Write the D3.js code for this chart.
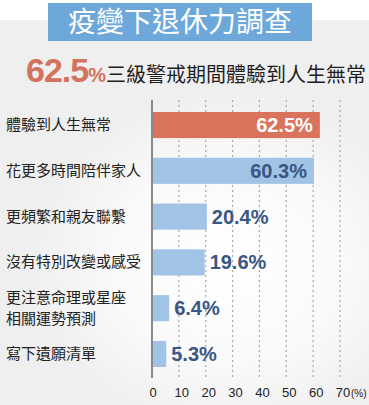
<!DOCTYPE html>
<html><head><meta charset="utf-8">
<script src="https://cdn.jsdelivr.net/npm/d3@7"></script>
<style>
html,body{margin:0;padding:0;background:#efeff0;}
svg{display:block;}
</style></head>
<body>
<svg id="chart" width="369" height="405"></svg>
<script>
const title = "疫變下退休力調查";
const headlineValue = "62.5";
const headlineText = "三級警戒期間體驗到人生無常";
const categories = ["體驗到人生無常","花更多時間陪伴家人","更頻繁和親友聯繫","沒有特別改變或感受","更注意命理或星座\n相關運勢預測","寫下遺願清單"];
const values = [62.5, 60.3, 20.4, 19.6, 6.4, 5.3];
const highlight = [true, false, false, false, false, false];
const tickValues = [0,10,20,30,40,50,60,70];

const svg = d3.select("#chart");
const W = 369, H = 405;
const cjk = "'Noto Sans CJK TC','Noto Sans CJK SC',sans-serif";
const latin = "'Liberation Sans',Arial,sans-serif";

const defs = svg.append("defs");
const rg = defs.append("radialGradient").attr("id","bg").attr("cx","0.62").attr("cy","0.55").attr("r","0.55");
rg.append("stop").attr("offset","0").attr("stop-color","#ffffff");
rg.append("stop").attr("offset","0.55").attr("stop-color","#fafafb");
rg.append("stop").attr("offset","1").attr("stop-color","#efeff0");

svg.append("rect").attr("width",W).attr("height",H).attr("fill","#efeff0");
svg.append("rect").attr("x",0).attr("y",90).attr("width",W).attr("height",H-90).attr("fill","url(#bg)");
svg.append("rect").attr("width",W).attr("height",20).attr("fill","#ffffff");

// title box
svg.append("rect").attr("x",48).attr("y",3).attr("width",264).attr("height",38).attr("fill","#6ea8da");
svg.append("text").attr("x",180).attr("y",32).attr("text-anchor","middle")
  .attr("font-family",cjk).attr("font-size",28).attr("fill","#ffffff").text(title);

// headline
const hl = svg.append("text").attr("x",26).attr("y",82).attr("font-family",latin);
hl.append("tspan").attr("font-size",34).attr("font-weight","bold").attr("fill","#d4735d").attr("letter-spacing",-1).text(headlineValue);
hl.append("tspan").attr("font-size",20).attr("font-weight","bold").attr("fill","#d4735d").text("%");
hl.append("tspan").attr("font-family",cjk).attr("font-size",20).attr("fill","#1e1e1e").attr("dx",0).text(headlineText);

// scales
const x = d3.scaleLinear().domain([0,70]).range([152,340]);
const y = d3.scaleBand().domain(categories).range([101,378]).paddingInner(0.43).paddingOuter(0.24);

// grid
svg.append("g").selectAll("line").data(tickValues.slice(1)).join("line")
  .attr("x1",d=>x(d)).attr("x2",d=>x(d)).attr("y1",100).attr("y2",377)
  .attr("stroke","#a8a8a8").attr("stroke-width",1.2).attr("stroke-dasharray","2,3");

// bars
svg.append("g").selectAll("rect").data(values).join("rect")
  .attr("x",x(0)).attr("y",(d,i)=>y(categories[i]))
  .attr("width",d=>x(d)-x(0)).attr("height",y.bandwidth())
  .attr("fill",(d,i)=>highlight[i] ? "#d9735c" : "#a1c3e6");

// axis line
svg.append("line").attr("x1",x(0)).attr("x2",x(0)).attr("y1",100).attr("y2",378)
  .attr("stroke","#8a8a8a").attr("stroke-width",2);

// value labels
svg.append("g").selectAll("text").data(values).join("text")
  .attr("x",(d)=> d>40 ? x(d)-7 : x(d)+5)
  .attr("y",(d,i)=>y(categories[i])+y.bandwidth()/2+7)
  .attr("text-anchor",d=> d>40 ? "end" : "start")
  .attr("font-family",latin).attr("font-weight","bold").attr("font-size",20)
  .attr("fill",(d,i)=>highlight[i] ? "#ffffff" : "#3a5684")
  .text(d=>d.toFixed(1)+"%");

// category labels
const cl = svg.append("g").selectAll("text").data(categories).join("text")
  .attr("x",6).attr("font-family",cjk).attr("font-size",15).attr("fill","#222")
  .attr("y",d=>y(d)+y.bandwidth()/2+5);
cl.each(function(d){
  const lines = d.split("\n");
  const t = d3.select(this);
  if(lines.length===1){ t.text(d); return; }
  lines.forEach((ln,k)=>{
    t.append("tspan").attr("x",6).attr("dy", k===0 ? -(lines.length-1)*21/2 : 21).text(ln);
  });
});

// tick labels
svg.append("g").selectAll("text").data(tickValues).join("text")
  .attr("x",d=>x(d)+(d===0?1:3)).attr("y",397).attr("text-anchor","middle")
  .attr("font-family",latin).attr("font-size",13).attr("fill","#222")
  .text(d=>d);
svg.append("text").attr("x",x(70)+11).attr("y",397).attr("font-family",latin)
  .attr("font-size",10).attr("fill","#222").text("(%)");
</script>
</body></html>
